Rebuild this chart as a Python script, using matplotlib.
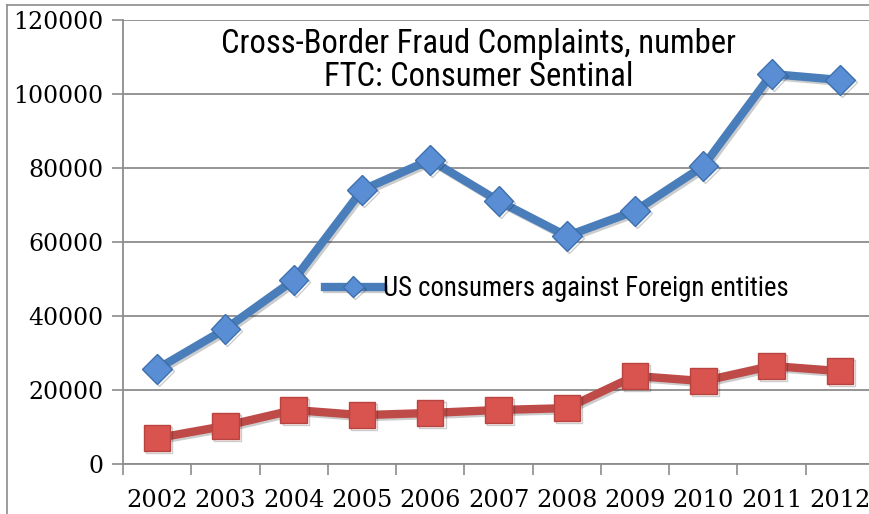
import numpy as np
import matplotlib.pyplot as plt
from matplotlib.lines import Line2D
from matplotlib import font_manager as fm
import matplotlib.patheffects as pe

# data
years = ["2002", "2003", "2004", "2005", "2006", "2007", "2008", "2009", "2010", "2011", "2012"]
us_vs_foreign = [25700, 36500, 49700, 74000, 82200, 71100, 61600, 68400, 80500, 105400, 103800]
foreign_vs_us = [7000, 10300, 14600, 13200, 13800, 14600, 15100, 23800, 22400, 26500, 25100]
yticks = [0, 20000, 40000, 60000, 80000, 100000, 120000]


def narrow_font(size):
    # look for an Arial-Narrow-like face; fall back to Liberation Sans
    picks = []
    for f in fm.fontManager.ttflist:
        st = str(f.stretch).lower()
        nm = f.name.lower()
        if f.style != "normal" or f.weight not in (400, "normal", "regular"):
            continue
        if "narrow" in nm or "condensed" in nm or st in ("condensed", "semi-condensed", "extra-condensed"):
            rank = 0 if "liberation" in nm else 1 if "roboto" in nm else 2 if "noto sans" in nm else 3
            picks.append((rank, f.fname))
    if picks:
        return fm.FontProperties(fname=sorted(picks)[0][1], size=size)
    return fm.FontProperties(family="Liberation Sans", size=size)


W, H = 869, 514
fig = plt.figure(figsize=(W / 100, H / 100), dpi=100)

# outer chart frame (only top and left edges are visible in the reference)
fig.lines.append(Line2D([7 / W, 7 / W], [0, (H - 5) / H], transform=fig.transFigure,
                        color="#8c8c8c", linewidth=1.2))
fig.lines.append(Line2D([7 / W, 1], [(H - 5) / H, (H - 5) / H], transform=fig.transFigure,
                        color="#8c8c8c", linewidth=1.2))

left, right, top, bottom = 123, 874, 20, 464
ax = fig.add_axes([left / W, (H - bottom) / H, (right - left) / W, (bottom - top) / H])

x = np.arange(len(years))
shadow = [pe.SimpleLineShadow(offset=(1.5, -1.5), alpha=0.2), pe.Normal()]

ax.plot(x, foreign_vs_us, color="#BE4B48", linewidth=6, marker="s", markersize=19,
        markerfacecolor="#D9534F", markeredgecolor="#B84440", markeredgewidth=1,
        zorder=3, path_effects=shadow)
ax.plot(x, us_vs_foreign, color="#4A7EBB", linewidth=6, marker="D", markersize=15,
        markerfacecolor="#5A8ED4", markeredgecolor="#3E70AD", markeredgewidth=1,
        zorder=4, path_effects=shadow, label="US consumers against Foreign entities")

ax.set_xlim(-0.5, len(years) - 0.5)
ax.set_ylim(0, 120000)

ax.set_yticks(yticks)
ax.set_yticklabels([str(v) for v in yticks], family="DejaVu Serif", fontsize=17)
ax.yaxis.grid(True, color="#8c8c8c", linewidth=1.3)
ax.set_axisbelow(True)

ax.set_xticks(np.arange(-0.5, len(years), 1.0))
ax.set_xticklabels([])
ax.set_xticks(x, minor=True)
ax.set_xticklabels(years, minor=True, family="DejaVu Serif", fontsize=17.3)
ax.tick_params(axis="x", which="minor", length=0, pad=18)
ax.tick_params(axis="x", which="major", length=8, color="#8c8c8c", width=1.2)
ax.tick_params(axis="y", length=8, color="#8c8c8c", width=1.2, pad=6)

for s in ["top", "right"]:
    ax.spines[s].set_visible(False)
for s in ["left", "bottom"]:
    ax.spines[s].set_color("#8c8c8c")
    ax.spines[s].set_linewidth(1.3)

ax.text(0.473, 0.982, "Cross-Border Fraud Complaints, number\nFTC: Consumer Sentinal",
        transform=ax.transAxes, ha="center", va="top",
        fontproperties=narrow_font(23.5), linespacing=1.05)

leg = ax.legend(loc="center left", bbox_to_anchor=(0.255, 0.395), frameon=False,
                prop=narrow_font(19.3), handlelength=2.1, handletextpad=0.05,
                borderaxespad=0, markerscale=0.7)

fig.savefig("out.png", dpi=100)
